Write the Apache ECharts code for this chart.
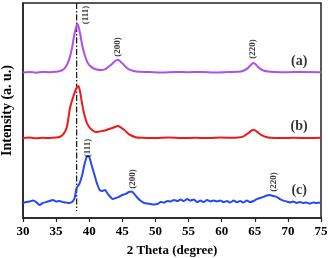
<!DOCTYPE html>
<html>
<head>
<meta charset="utf-8">
<script src="https://cdn.jsdelivr.net/npm/echarts@6/dist/echarts.min.js"></script>
<style>html,body{margin:0;padding:0;background:#fff}#c{width:328px;height:258px}</style>
</head>
<body>
<div id="c"></div>
<script>
// 2 Theta (degree) ticks
const xTicks = [30, 35, 40, 45, 50, 55, 60, 65, 70, 75];

// curve (a) — purple, [2theta, intensity offset]
const curveA = [
  [30,67.7],[31,67.9],[32,67.6],[33,67.9],[34,67.8],[35,68.0],[35.5,68.3],[36,68.9],[36.5,70.5],
  [37,74.0],[37.4,79.0],[37.7,84.5],[38.0,88.5],[38.2,90.2],[38.4,89.0],[38.7,84.5],[39.0,79.5],
  [39.4,75.0],[39.8,72.0],[40.3,70.3],[41,69.2],[41.8,68.8],[42.5,69.4],[43.2,71.0],[43.8,72.7],
  [44.3,73.6],[44.8,72.6],[45.4,70.6],[46,69.1],[46.7,68.4],[47.5,68.0],[49,67.9],[51,67.7],
  [53,67.9],[55,67.8],[57,67.9],[59,67.7],[61,67.9],[62.5,68.0],[63.3,68.5],[63.9,69.6],
  [64.4,71.2],[64.8,72.1],[65.2,71.3],[65.7,69.7],[66.3,68.6],[67,68.1],[68,67.9],[70,67.8],
  [72,67.9],[75,67.8]
];

// curve (b) — red
const curveB = [
  [30,37.2],[31,37.4],[32,37.1],[33,37.3],[34,37.2],[35,37.4],[35.6,37.8],[36.1,39.0],[36.6,42.0],
  [37.1,51.2],[37.6,56.5],[38.0,60.0],[38.35,61.4],[38.6,59.0],[38.9,53.5],[39.1,50.2],[39.5,45.5],
  [39.8,43.3],[40.3,41.3],[41,40.0],[41.5,40.2],[42,40.5],[42.5,40.8],[43,41.4],[43.6,42.0],
  [44.35,42.8],[44.8,42.0],[45.3,40.9],[45.8,39.5],[46.2,38.6],[47,37.6],[48,37.3],[50,37.2],
  [52,37.4],[54,37.2],[56,37.3],[58,37.2],[60,37.4],[61.5,37.3],[62.5,37.4],[63.3,38.0],
  [64.0,39.4],[64.5,40.6],[64.8,41.0],[65.3,40.2],[65.9,38.8],[66.6,37.8],[67.4,37.3],[69,37.2],
  [71,37.3],[73,37.2],[75,37.3]
];

// curve (c) — blue
const curveC = [
  [30,7.0],[30.5,7.4],[31,7.7],[31.5,8.1],[32,7.4],[32.5,6.0],[33,7.0],[33.5,7.4],[34,7.9],
  [34.5,8.4],[35,7.7],[35.5,7.9],[36,7.4],[36.5,7.2],[37,7.0],[37.4,7.4],[37.8,9.3],[38.1,14.0],
  [38.5,15.8],[38.9,19.5],[39.3,25.1],[39.7,28.8],[40.0,28.4],[40.4,24.2],[40.8,20.0],[41.2,15.8],
  [41.6,13.0],[42.0,12.6],[42.4,13.0],[42.8,11.2],[43.2,9.8],[43.6,8.8],[44.0,9.3],[44.5,9.8],
  [45.0,10.7],[45.5,11.2],[46.0,12.1],[46.4,12.3],[46.8,11.2],[47.3,9.3],[47.8,7.9],[48.3,7.0],
  [48.8,6.7],[49.3,6.5],[49.8,6.3],[50.3,6.5],[50.8,7.4],[51.3,7.2],[51.8,7.9],[52.3,7.7],
  [52.8,8.4],[53.3,7.9],[53.8,8.6],[54.3,7.9],[54.8,8.8],[55.3,8.1],[55.8,8.6],[56.3,7.4],
  [56.8,8.1],[57.3,7.4],[57.8,8.4],[58.3,7.7],[58.8,8.1],[59.3,7.7],[59.8,8.1],[60.3,7.4],
  [60.8,7.9],[61.3,7.2],[61.8,8.1],[62.3,7.4],[62.8,7.9],[63.3,7.2],[63.8,8.1],[64.3,7.4],
  [64.8,7.9],[65.3,8.8],[65.8,9.3],[66.3,9.8],[66.8,10.5],[67.3,10.7],[67.8,10.2],[68.3,9.8],
  [68.8,8.8],[69.3,8.1],[69.8,7.7],[70.3,7.2],[70.8,7.7],[71.3,7.0],[71.8,7.4],[72.3,7.0],
  [72.8,7.2],[73.3,6.7],[73.8,7.2],[74.3,7.0],[75,7.2]
];

// reference line at the (111) position of (a)
const refLine = [[38.1, 100], [38.1, 3.3]];

// peak annotations [2theta, y, text]
const peakLabels = [
  [39.4, 94.4, '(111)'], [44.35, 79.5, '(200)'], [64.7, 78.6, '(220)'],
  [39.8, 32.6, '(111)'], [46.5, 18.1, '(200)'], [67.8, 16.7, '(220)']
];
// sample labels [2theta, y, text]
const sampleLabels = [[71.7, 73.0, '(a)'], [71.7, 42.8, '(b)'], [71.7, 13.0, '(c)']];

const serif = 'Liberation Serif';
const chart = echarts.init(document.getElementById('c'));
chart.setOption({
  animation: false,
  grid: {left: 23, right: 7, top: 3, bottom: 40, show: true, borderColor: '#222', borderWidth: 1.5,
    outerBoundsMode: 'none', containLabel: false},
  xAxis: {
    type: 'value', min: 30, max: 75, interval: 5,
    name: '2 Theta (degree)', nameLocation: 'middle', nameGap: 26,
    nameTextStyle: {fontFamily: serif, fontWeight: 'bold', fontSize: 13, color: '#000'},
    axisLine: {lineStyle: {color: '#222', width: 1.5}},
    axisTick: {show: true, length: 4, lineStyle: {color: '#222', width: 1.2}},
    axisLabel: {fontFamily: serif, fontWeight: 'bold', fontSize: 13, color: '#000', margin: 7,
      formatter: v => xTicks.includes(v) ? String(v) : ''},
    splitLine: {show: false}
  },
  yAxis: {
    type: 'value', min: 0, max: 100,
    name: 'Intensity (a. u.)', nameLocation: 'middle', nameGap: 9, nameRotate: 90,
    nameTextStyle: {fontFamily: serif, fontWeight: 'bold', fontSize: 14, color: '#000'},
    axisLine: {show: true, lineStyle: {color: '#222', width: 1.5}},
    axisTick: {show: false}, axisLabel: {show: false}, splitLine: {show: false}
  },
  series: [
    {type: 'line', data: refLine, symbol: 'none', z: 1,
      lineStyle: {color: '#111', width: 1.2, type: [6, 2, 1.5, 2]}},
    {type: 'line', data: curveA, symbol: 'none', smooth: 0.3, lineStyle: {color: '#b04ff0', width: 2}},
    {type: 'line', data: curveB, symbol: 'none', smooth: 0.3, lineStyle: {color: '#f01818', width: 2}},
    {type: 'line', data: curveC, symbol: 'none', smooth: 0.2, lineStyle: {color: '#2848f5', width: 2}},
    {type: 'scatter', data: peakLabels, symbolSize: 0, z: 5,
      label: {show: true, position: 'inside', rotate: 90, formatter: p => p.data[2],
        fontFamily: serif, fontWeight: 'bold', fontSize: 9, color: '#000'}},
    {type: 'scatter', data: sampleLabels, symbolSize: 0, z: 5,
      label: {show: true, position: 'inside', formatter: p => p.data[2],
        fontFamily: serif, fontWeight: 'bold', fontSize: 14, color: '#000'}}
  ]
});
</script>
</body>
</html>
